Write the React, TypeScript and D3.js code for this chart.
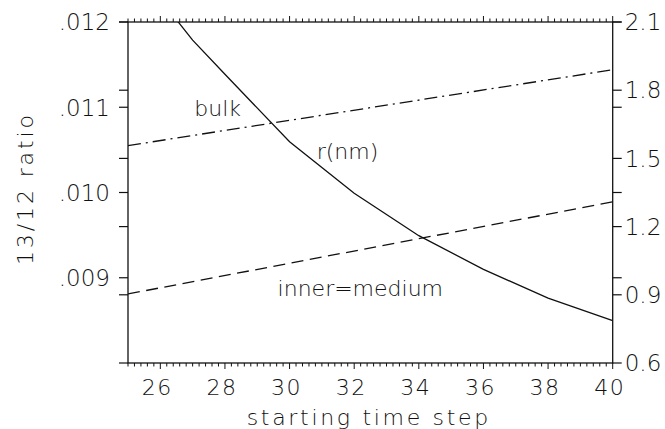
import * as d3 from "d3";

// r(nm) curve, right axis
const rSteps = [26, 27, 28, 30, 32, 34, 36, 38, 40];
const rValues = [2.2, 2.02, 1.87, 1.573, 1.347, 1.16, 1.012, 0.885, 0.786];

// 13/12 ratio lines, left axis
const ratioSteps = [25, 40];
const bulkValues = [0.01055, 0.01144];
const innerValues = [0.00881, 0.00989];

const xTicks = [26, 28, 30, 32, 34, 36, 38, 40];
const leftTicks = [0.009, 0.01, 0.011, 0.012];
const rightTicks = [0.9, 1.2, 1.5, 1.8, 2.1];

const W = 665,
  H = 429;
const L = 128,
  R = 612.7,
  T = 22,
  B = 363;
const FONT = "'DejaVu Sans', sans-serif";
const INK = "#111";

const App = () => {
  const x = d3.scaleLinear().domain([25, 40]).range([L, R]);
  const yL = d3.scaleLinear().domain([0.008, 0.012]).range([B, T]);
  const yR = d3.scaleLinear().domain([0.6, 2.1]).range([B, T]);

  const rLine = d3
    .line<number>()
    .x((d, i) => x(rSteps[i]))
    .y((d) => yR(d));
  const ratioLine = d3
    .line<number>()
    .x((d, i) => x(ratioSteps[i]))
    .y((d) => yL(d));

  // minor ticks every 0.2 steps
  const minor = d3.range(0, 76).map((i) => 25 + i * 0.2);
  // side ticks: both scales marked on both sides
  const sideYs = [
    ...leftTicks.map((v) => yL(v)),
    ...rightTicks.map((v) => yR(v)),
    B,
  ];

  const fmtL = (v: number) => d3.format(".3f")(v).replace(/^0/, "");

  return (
    <svg
      width={W}
      height={H}
      style={{ position: "absolute", left: 0, top: 0, background: "#fff" }}
      fontFamily={FONT}
      fontWeight={200}
    >
      <defs>
        <clipPath id="plot">
          <rect x={L} y={T} width={R - L} height={B - T} />
        </clipPath>
      </defs>
      <rect x={0} y={0} width={W} height={H} fill="#fff" />

      {/* frame */}
      <rect
        x={L}
        y={T}
        width={R - L}
        height={B - T}
        fill="none"
        stroke={INK}
        strokeWidth={1.3}
      />

      {/* top/bottom ticks */}
      {minor.map((s, i) => {
        const big = Math.abs(s - Math.round(s)) < 1e-6 && Math.round(s) % 2 === 0;
        const len = big ? 6 : 3.5;
        return (
          <g key={"mt" + i} stroke={INK} strokeWidth={1}>
            <line x1={x(s)} x2={x(s)} y1={T} y2={T - len} />
            <line x1={x(s)} x2={x(s)} y1={B} y2={B + len} />
          </g>
        );
      })}

      {/* side ticks */}
      {sideYs.map((y, i) => (
        <g key={"st" + i} stroke={INK} strokeWidth={1.2}>
          <line x1={L} x2={L - 9} y1={y} y2={y} />
          <line x1={R} x2={R + 9} y1={y} y2={y} />
        </g>
      ))}

      {/* curves */}
      <g clipPath="url(#plot)" fill="none" stroke={INK} strokeWidth={1.3}>
        <path d={rLine(rValues) ?? ""} />
        <path d={ratioLine(bulkValues) ?? ""} strokeDasharray="13,5,2,5" />
        <path d={ratioLine(innerValues) ?? ""} strokeDasharray="12,6.5" />
      </g>

      {/* left tick labels */}
      {leftTicks.map((v) => (
        <text
          key={"ll" + v}
          x={L - 18}
          y={yL(v)}
          dy="0.36em"
          textAnchor="end"
          fontSize={23}
          fill={INK}
        >
          {fmtL(v)}
        </text>
      ))}

      {/* right tick labels */}
      {[0.6, ...rightTicks].map((v) => (
        <text
          key={"rl" + v}
          x={R + 12}
          y={yR(v)}
          dy="0.36em"
          textAnchor="start"
          fontSize={23}
          fill={INK}
        >
          {v.toFixed(1)}
        </text>
      ))}

      {/* bottom tick labels */}
      {xTicks.map((v) => (
        <text
          key={"xl" + v}
          x={x(v) - 3}
          y={395}
          textAnchor="middle"
          fontSize={22}
          letterSpacing={1.5}
          fill={INK}
        >
          {v}
        </text>
      ))}

      {/* axis titles */}
      <text
        x={246.7}
        y={425}
        fontSize={22}
        textLength={241.6}
        lengthAdjust="spacing"
        fill={INK}
      >
        starting time step
      </text>
      <text
        transform={`translate(33,265) rotate(-90)`}
        fontSize={22}
        textLength={150}
        lengthAdjust="spacing"
        fill={INK}
      >
        13/12 ratio
      </text>

      {/* curve labels */}
      <text x={x(27.05)} y={yL(0.010894)} fontSize={22} fill={INK}>
        bulk
      </text>
      <text x={x(30.84)} y={yR(1.497)} fontSize={22} fill={INK}>
        r(nm)
      </text>
      <text
        x={x(34.75)}
        y={yL(0.008788)}
        fontSize={22}
        textAnchor="end"
        fill={INK}
      >
        inner=medium
      </text>
    </svg>
  );
};

export default App;
